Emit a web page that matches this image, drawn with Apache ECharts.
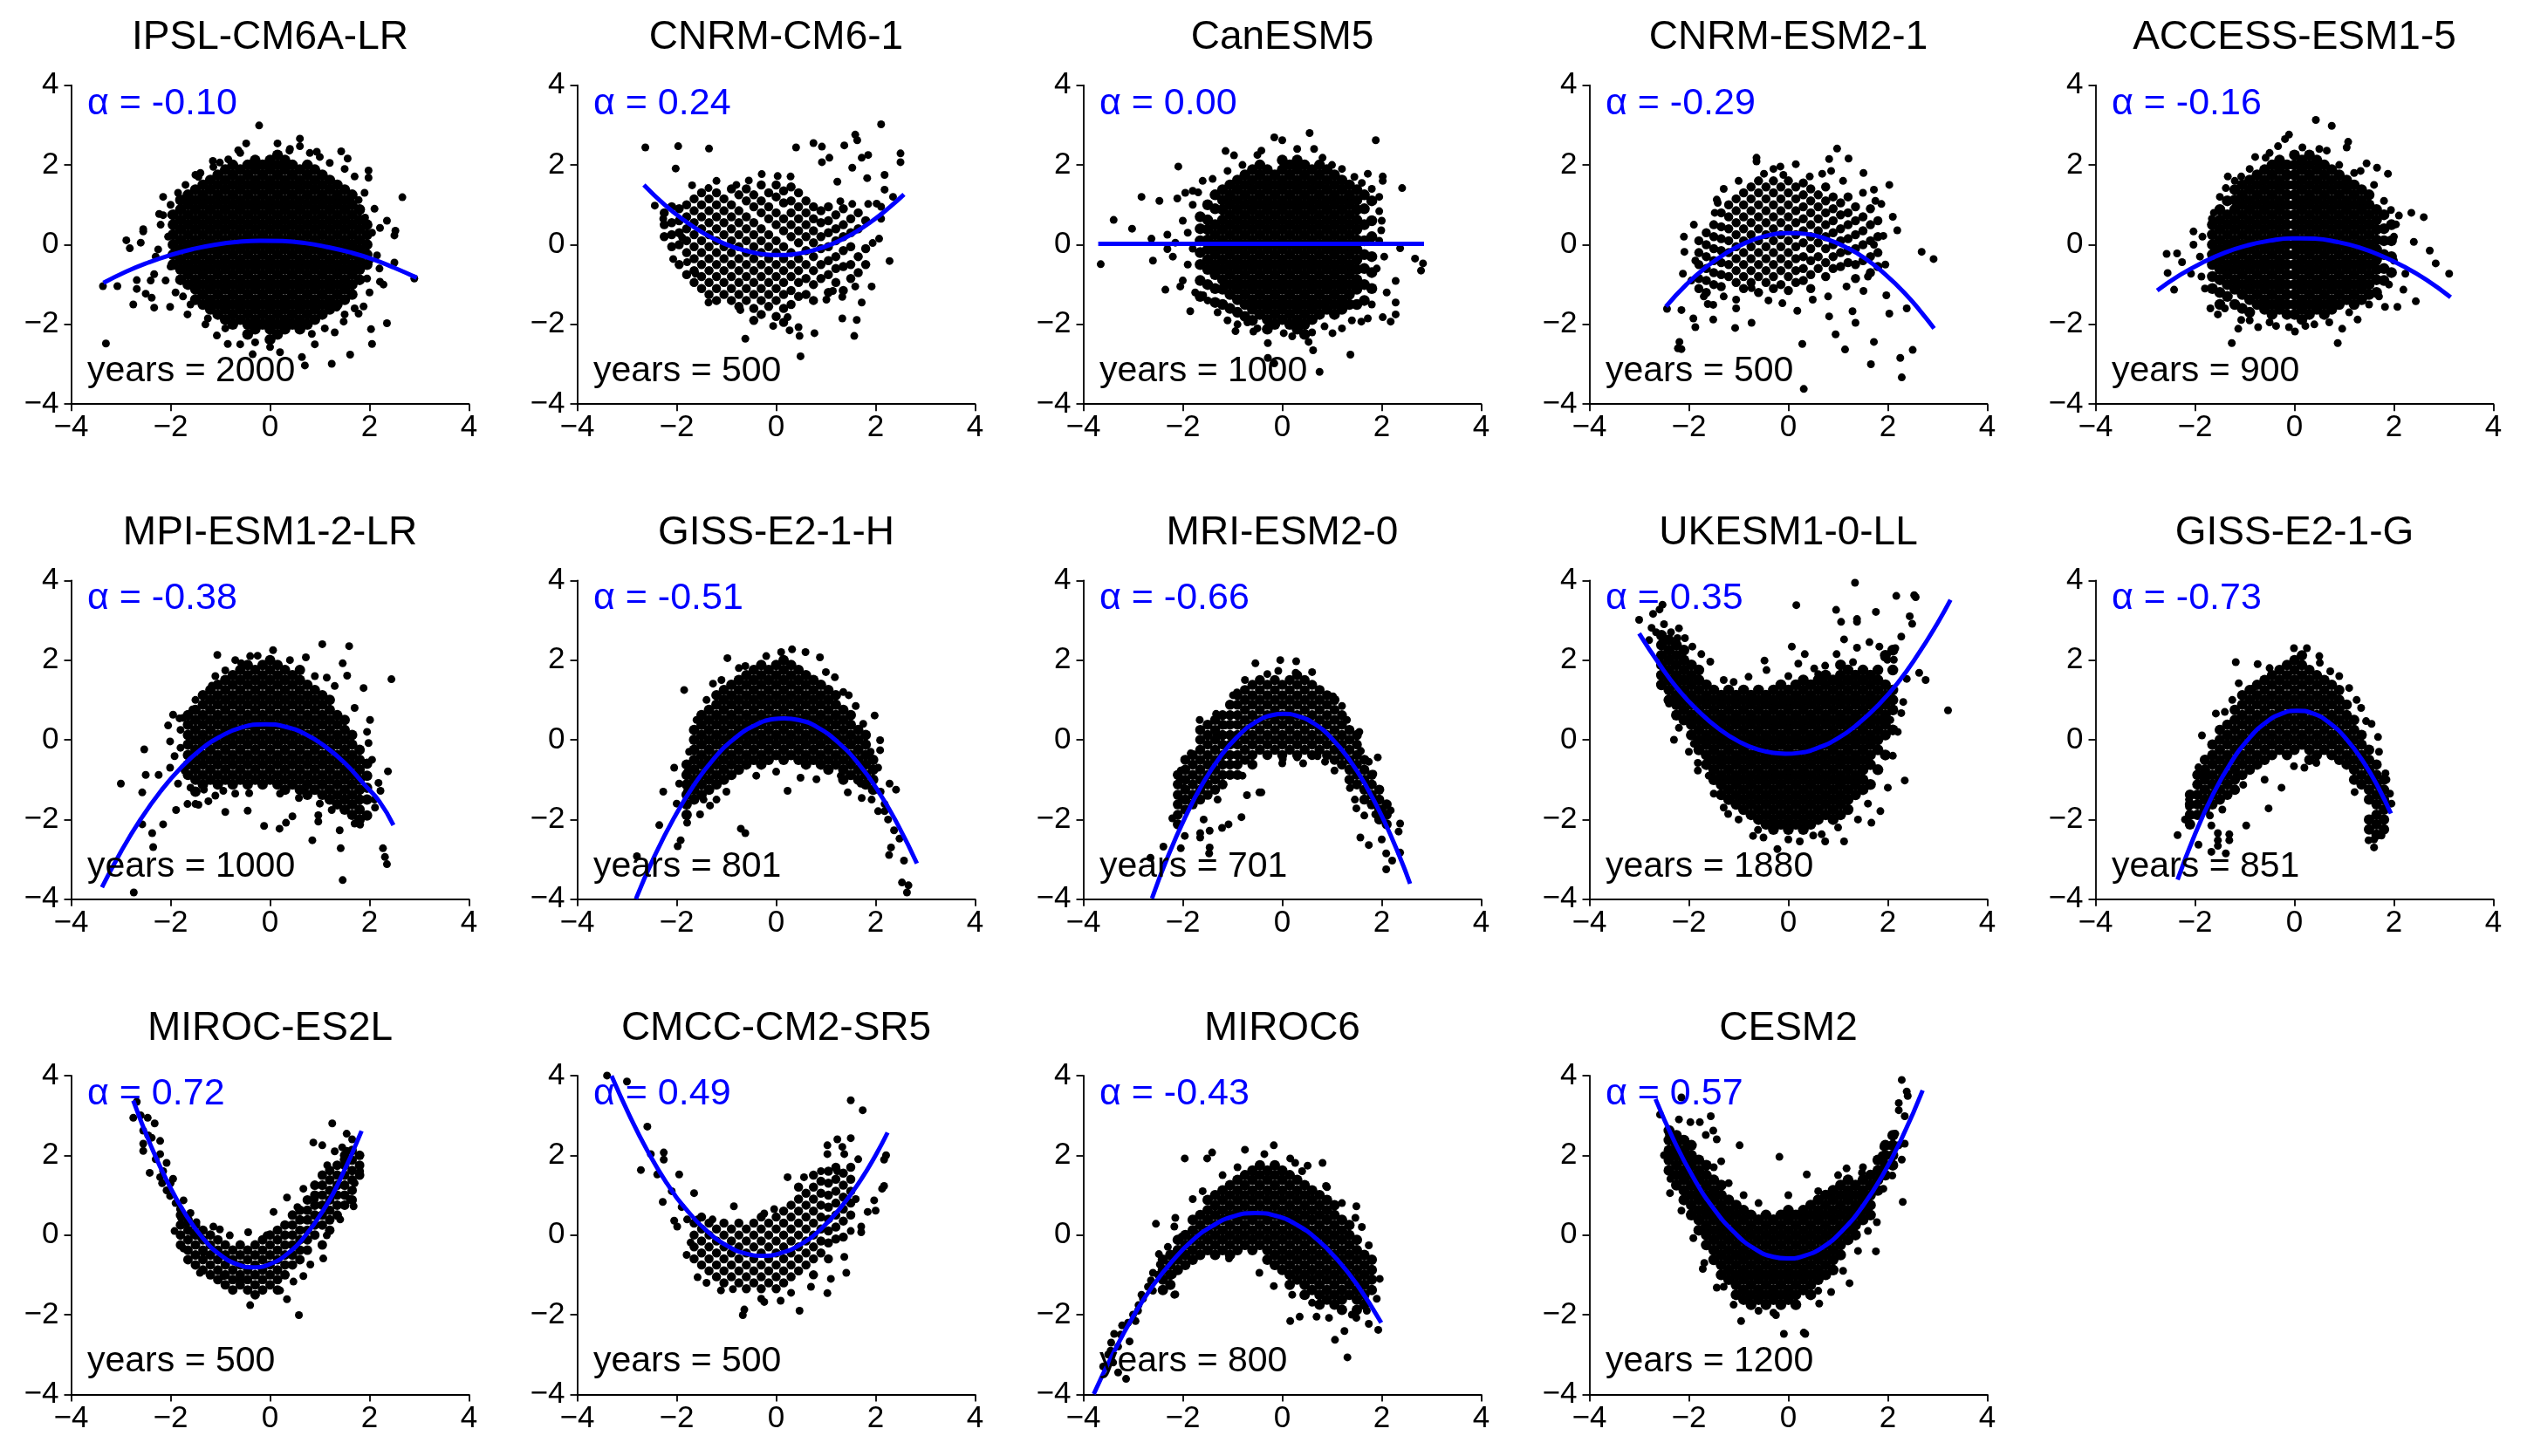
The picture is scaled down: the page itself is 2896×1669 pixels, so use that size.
<!DOCTYPE html>
<html><head><meta charset="utf-8">
<script src="https://cdn.jsdelivr.net/npm/echarts@6/dist/echarts.min.js"></script>
<style>html,body{margin:0;padding:0;background:#fff}#c{width:2896px;height:1669px}</style>
</head><body><div id="c"></div>
<script>
const modelNames = ['IPSL-CM6A-LR','CNRM-CM6-1','CanESM5','CNRM-ESM2-1','ACCESS-ESM1-5','MPI-ESM1-2-LR','GISS-E2-1-H','MRI-ESM2-0','UKESM1-0-LL','GISS-E2-1-G','MIROC-ES2L','CMCC-CM2-SR5','MIROC6','CESM2'];
const alphaLabels = ['-0.10','0.24','0.00','-0.29','-0.16','-0.38','-0.51','-0.66','0.35','-0.73','0.72','0.49','-0.43','0.57'];
const yearCounts = [2000,500,1000,500,900,1000,801,701,1880,851,500,500,800,1200];
const axisMin = -4, axisMax = 4, axisStep = 2;

// ---- IPSL-CM6A-LR ----
const colsIPSL = [
[-1.95,-0.5,-0.25,0,0.25,0.5,0.75],
[-1.8,-0.88,-0.62,-0.38,-0.12,0.12,0.38,0.62,0.88,1.12],
[-1.65,-1,-0.75,-0.5,-0.25,0,0.25,0.5,0.75,1,1.25],
[-1.5,-1.38,-1.12,-0.88,-0.62,-0.38,-0.12,0.12,0.38,0.62,0.88,1.12,1.38],
[-1.35,-1.5,-1.25,-1,-0.75,-0.5,-0.25,0,0.25,0.5,0.75,1,1.25,1.5],
[-1.2,-1.62,-1.38,-1.12,-0.88,-0.62,-0.38,-0.12,0.12,0.38,0.62,0.88,1.12,1.38,1.62],
[-1.05,-1.75,-1.5,-1.25,-1,-0.75,-0.5,-0.25,0,0.25,0.5,0.75,1,1.25,1.5,1.75],
[-0.9,-1.88,-1.62,-1.38,-1.12,-0.88,-0.62,-0.38,-0.12,0.12,0.38,0.62,0.88,1.12,1.38,1.62,1.88],
[-0.75,-2,-1.75,-1.5,-1.25,-1,-0.75,-0.5,-0.25,0,0.25,0.5,0.75,1,1.25,1.5,1.75,2],
[-0.6,-1.88,-1.62,-1.38,-1.12,-0.88,-0.62,-0.38,-0.12,0.12,0.38,0.62,0.88,1.12,1.38,1.62,1.88],
[-0.45,-2.25,-2,-1.75,-1.5,-1.25,-1,-0.75,-0.5,-0.25,0,0.25,0.5,0.75,1,1.25,1.5,1.75,2],
[-0.3,-2.12,-1.88,-1.62,-1.38,-1.12,-0.88,-0.62,-0.38,-0.12,0.12,0.38,0.62,0.88,1.12,1.38,1.62,1.88,2.12],
[-0.15,-2,-1.75,-1.5,-1.25,-1,-0.75,-0.5,-0.25,0,0.25,0.5,0.75,1,1.25,1.5,1.75,2],
[0,-2.38,-2.12,-1.88,-1.62,-1.38,-1.12,-0.88,-0.62,-0.38,-0.12,0.12,0.38,0.62,0.88,1.12,1.38,1.62,1.88,2.12],
[0.15,-2.25,-2,-1.75,-1.5,-1.25,-1,-0.75,-0.5,-0.25,0,0.25,0.5,0.75,1,1.25,1.5,1.75,2,2.25],
[0.3,-2.12,-1.88,-1.62,-1.38,-1.12,-0.88,-0.62,-0.38,-0.12,0.12,0.38,0.62,0.88,1.12,1.38,1.62,1.88,2.12],
[0.45,-2,-1.75,-1.5,-1.25,-1,-0.75,-0.5,-0.25,0,0.25,0.5,0.75,1,1.25,1.5,1.75,2],
[0.6,-2.12,-1.88,-1.62,-1.38,-1.12,-0.88,-0.62,-0.38,-0.12,0.12,0.38,0.62,0.88,1.12,1.38,1.62,1.88],
[0.75,-2,-1.75,-1.5,-1.25,-1,-0.75,-0.5,-0.25,0,0.25,0.5,0.75,1,1.25,1.5,1.75,2],
[0.9,-1.88,-1.62,-1.38,-1.12,-0.88,-0.62,-0.38,-0.12,0.12,0.38,0.62,0.88,1.12,1.38,1.62,1.88],
[1.05,-1.75,-1.5,-1.25,-1,-0.75,-0.5,-0.25,0,0.25,0.5,0.75,1,1.25,1.5,1.75],
[1.2,-1.62,-1.38,-1.12,-0.88,-0.62,-0.38,-0.12,0.12,0.38,0.62,0.88,1.12,1.38,1.62],
[1.35,-1.5,-1.25,-1,-0.75,-0.5,-0.25,0,0.25,0.5,0.75,1,1.25,1.5],
[1.5,-1.38,-1.12,-0.88,-0.62,-0.38,-0.12,0.12,0.38,0.62,0.88,1.12,1.38],
[1.65,-1.25,-1,-0.75,-0.5,-0.25,0,0.25,0.5,0.75,1,1.25],
[1.8,-0.88,-0.62,-0.38,-0.12,0.12,0.38,0.62,0.88],
[1.95,-0.5,-0.25,0,0.25,0.5]
];
const ptsIPSL = [-0.22,2.99,0.6,2.66,0.6,2.47,-0.48,2.54,0.15,2.54,-0.64,2.37,0.39,2.36,0.94,2.33,1.43,2.34,1.56,2.16,1.98,1.86,1.98,1.68,1.7,1.71,2.66,1.19,2.21,0.42,2.52,0.35,2.5,0.23,2.5,-0.45,2.9,-0.85,2.35,-1.97,2.03,-2.12,2.05,-2.49,1.61,-2.76,1.24,-2.99,0.7,-3.03,0.64,-2.82,0,-2.57,-0.35,-2.75,-0.85,-2.49,-1.07,-2.28,-3.3,-2.48,-3.36,-1.04,-3.07,-1.04,-2.75,-1.5,-2.33,-1.58,-2.01,-1.56,-1.66,-1.75,-2.89,0.11,-2.82,-0.09,-2.55,0.33,-2.55,0.39,-2.23,0.77,-2.15,0.74,-2.25,-0.12,-2.33,-0.74,-2.68,-0.89,-2.68,-1.11,-2.5,-1.23,-2.38,-1.33,-1.99,0.75,-1.81,1.12,-1.44,1.7,-1.14,1.95,-1.01,2.06,-0.84,2.14,1.78,1.12,1.91,0.68,2.15,-0.27,2.21,-0.93,2.28,-1.0,1.88,-1.55,1.78,-1.73,1.48,-1.93,0.84,-2.24,0.37,-1.95,1.34,-1.58,-2.2,0.5,-2.3,-0.3,-2.1,-0.9,-2.0,1.0,-1.7,1.5,-1.4,1.8,-0.6,2.3,0.4,2.4,1.0,2.2,1.5,1.9,1.9,1.3,2.1,0.9,2.2,-0.6,2.0,-1.2,1.7,-1.6,1.3,-2.2,0.9,-2.5,0.2,-2.7,-0.6,-2.5,-1.3,-2.0,-1.6,-1.5,-1.9,-1.2,-2.4,-0.9,-2.6,0.05,-2.05,0.2,-2.0,-0.55,-2.15,1.2,-1.5,1.75,2.05,0.3,2.0,-0.4,1.95,-0.85,1.5,-1.75,1.1,-2.1,-0.3,-2.45,-0.9,-2.1,-1.25,-1.85,-1.75,-1.3,-1.85,1.3,-1.15,2.1,0.8,2.3,1.2,2.05,2.35,0.6];
const fitIPSL = [-3.35,-0.96,-2.9,-0.68,-2.45,-0.45,-2.0,-0.26,-1.55,-0.11,-1.1,0.0,-0.65,0.07,-0.2,0.1,0.25,0.09,0.7,0.04,1.15,-0.06,1.6,-0.19,2.05,-0.36,2.5,-0.58,2.95,-0.83];

// ---- CNRM-CM6-1 ----
const colsCNRM6 = [
[-2.25,0.8,0.5,0.2],[-2.1,0.95,0.55,0.25,-0.05],[-1.95,0.9,0.6,0.3,0,-0.5],[-1.8,1.0,0.7,0.4,0.1,-0.2,-0.75],
[-1.65,1.15,0.85,0.55,0.25,-0.05,-0.35,-0.65,-0.95],[-1.5,1.3,1.0,0.7,0.4,0.1,-0.2,-0.5,-0.8,-1.1],
[-1.35,1.15,0.85,0.55,0.25,-0.05,-0.35,-0.65,-0.95,-1.25],[-1.2,1.3,1.0,0.7,0.4,0.1,-0.2,-0.5,-0.8,-1.1,-1.4],
[-1.05,1.15,0.85,0.55,0.25,-0.05,-0.35,-0.65,-0.95,-1.25],[-0.9,1.4,1.0,0.7,0.4,0.1,-0.2,-0.5,-0.8,-1.1,-1.4],
[-0.75,1.25,0.85,0.55,0.25,-0.05,-0.35,-0.65,-0.95,-1.25,-1.55],[-0.6,1.4,1.1,0.7,0.4,0.1,-0.2,-0.5,-0.8,-1.1,-1.4],
[-0.45,1.25,0.95,0.55,0.25,-0.05,-0.35,-0.65,-0.95,-1.25,-1.6,-1.9],[-0.3,1.5,1.1,0.8,0.4,0.1,-0.2,-0.5,-0.8,-1.1,-1.4,-1.75],
[-0.15,1.3,0.95,0.65,0.25,-0.05,-0.35,-0.65,-0.95,-1.25,-1.55],[0,1.5,1.2,0.8,0.5,0.1,-0.2,-0.5,-0.8,-1.1,-1.4,-1.8],
[0.15,1.35,1.05,0.65,0.35,-0.05,-0.35,-0.65,-0.95,-1.25,-1.6,-1.95],[0.3,1.45,1.1,0.8,0.5,0.2,-0.2,-0.5,-0.8,-1.15,-1.5],
[0.45,1.3,0.95,0.65,0.35,0.05,-0.35,-0.65,-0.95,-1.3],[0.6,1.1,0.8,0.5,0.2,-0.15,-0.5,-0.85,-1.25],
[0.75,0.95,0.65,0.35,0.05,-0.3,-0.65,-1.0,-1.4],[0.9,0.85,0.55,0.2,-0.1,-0.5,-0.85],
[1.05,0.95,0.6,0.3,-0.05,-0.4,-0.75,-1.2],[1.2,0.75,0.4,0.1,-0.3,-0.6,-0.95],
[1.35,0.9,0.5,0.2,-0.15,-0.55,-1.15],[1.5,0.65,0.3,-0.05,-0.5,-0.85],[1.65,0.8,0.4,-0.3,-0.7],[1.8,0.6,-0.1,-0.5]
];
const ptsCNRM6 = [-2.63,2.44,-1.97,2.47,-1.35,2.41,-2.02,1.91,-1.69,1.49,-1.2,1.6,-1.36,1.42,-0.8,1.5,-0.55,1.61,-0.29,1.77,0.03,1.72,0.29,1.71,0.4,2.44,0.75,2.55,0.92,2.46,1.37,2.49,1.59,2.76,1.63,2.62,2.11,3.02,2.5,2.29,2.5,2.07,1.85,2.25,1.72,2.18,1.53,1.93,1.07,2.18,0.92,2.07,1.23,1.58,1.83,1.67,2.18,1.75,2.18,1.38,1.29,1.09,1.53,1.02,1.85,1.02,2.02,1.03,2.35,1.2,2.11,0.95,2.11,0.65,2.07,0.15,1.94,0.04,2.28,-0.41,1.92,-1.05,1.72,-1.45,1.59,-1.05,1.33,-1.85,1.62,-1.89,1.57,-2.29,0.77,-2.22,0.45,-2.07,0.47,-2.29,0.49,-2.8,0.27,-2.15,-0.06,-2.04,0.23,-1.82,-0.62,-2.36,-0.72,-1.64,-1.36,-1.45,-2.07,-0.36,-2.44,0.98,-2.27,0.65,-1.89,0.18,-1.62,-0.73,-1.79,-0.44,1.33,-1.31,1.14,-1.16,1.01,-1.38];
const fitCNRM6 = [-2.66,1.5,-2.25,1.01,-1.85,0.61,-1.45,0.28,-1.05,0.03,-0.65,-0.14,-0.25,-0.24,0.05,-0.26,0.35,-0.24,0.75,-0.14,1.15,0.03,1.55,0.28,1.95,0.61,2.3,0.96,2.57,1.26];

// ---- CanESM5 ----
const colsCan = [
[-1.65,0.7,0.4,0.1,-0.2,-0.5,-0.9,-1.3],
[-1.5,1.0,0.62,0.38,0.12,-0.12,-0.38,-0.62,-1.0],
[-1.35,1.25,0.9,0.5,0.25,0,-0.25,-0.5,-0.75,-1.1,-1.45],
[-1.2,1.38,1.12,0.88,0.62,0.38,0.12,-0.12,-0.38,-0.62,-0.88,-1.12,-1.5],
[-1.05,1.5,1.25,1,0.75,0.5,0.25,0,-0.25,-0.5,-0.75,-1,-1.25,-1.6],
[-0.9,1.62,1.38,1.12,0.88,0.62,0.38,0.12,-0.12,-0.38,-0.62,-0.88,-1.12,-1.38,-1.7],
[-0.75,1.75,1.5,1.25,1,0.75,0.5,0.25,0,-0.25,-0.5,-0.75,-1,-1.25,-1.5,-1.8],
[-0.6,1.88,1.62,1.38,1.12,0.88,0.62,0.38,0.12,-0.12,-0.38,-0.62,-0.88,-1.12,-1.38,-1.62,-1.9],
[-0.45,2,1.75,1.5,1.25,1,0.75,0.5,0.25,0,-0.25,-0.5,-0.75,-1,-1.25,-1.5,-1.75],
[-0.3,1.88,1.62,1.38,1.12,0.88,0.62,0.38,0.12,-0.12,-0.38,-0.62,-0.88,-1.12,-1.38,-1.62,-1.88,-2.12],
[-0.15,1.75,1.5,1.25,1,0.75,0.5,0.25,0,-0.25,-0.5,-0.75,-1,-1.25,-1.5,-1.75,-2],
[0,2.12,1.88,1.62,1.38,1.12,0.88,0.62,0.38,0.12,-0.12,-0.38,-0.62,-0.88,-1.12,-1.38,-1.62,-1.88],
[0.15,2,1.75,1.5,1.25,1,0.75,0.5,0.25,0,-0.25,-0.5,-0.75,-1,-1.25,-1.5,-1.75,-2],
[0.3,2.12,1.88,1.62,1.38,1.12,0.88,0.62,0.38,0.12,-0.12,-0.38,-0.62,-0.88,-1.12,-1.38,-1.62,-1.88,-2.12],
[0.45,2,1.75,1.5,1.25,1,0.75,0.5,0.25,0,-0.25,-0.5,-0.75,-1,-1.25,-1.5,-1.75,-2,-2.25],
[0.6,1.88,1.62,1.38,1.12,0.88,0.62,0.38,0.12,-0.12,-0.38,-0.62,-0.88,-1.12,-1.38,-1.62,-1.88],
[0.75,2,1.75,1.5,1.25,1,0.75,0.5,0.25,0,-0.25,-0.5,-0.75,-1,-1.25,-1.5,-1.75],
[0.9,1.88,1.62,1.38,1.12,0.88,0.62,0.38,0.12,-0.12,-0.38,-0.62,-0.88,-1.12,-1.38,-1.62],
[1.05,1.75,1.5,1.25,1,0.75,0.5,0.25,0,-0.25,-0.5,-0.75,-1,-1.25,-1.5,-1.75],
[1.2,1.62,1.38,1.12,0.88,0.62,0.38,0.12,-0.12,-0.38,-0.62,-0.88,-1.12,-1.38,-1.62],
[1.35,1.5,1.25,1,0.75,0.5,0.25,0,-0.25,-0.5,-0.75,-1,-1.25,-1.5],
[1.5,1.38,1.12,0.88,0.62,0.38,0.12,-0.12,-0.38,-0.62,-0.88,-1.12,-1.5],
[1.65,1.25,0.9,0.5,0.1,-0.25,-0.6,-1.0,-1.4],
[1.8,1.1,0.6,0.2,-0.3,-0.7,-1.1]
];
const ptsCan = [-3.65,-0.49,-3.39,0.62,-3.02,0.4,-2.83,1.2,-2.63,0.15,-2.6,-0.4,-2.31,0.25,-2.31,-0.11,-2.09,1.96,-2.35,-1.13,-2.05,-1.05,-1.85,-1.67,-1.59,-1.27,-1.69,1.31,-2.47,1.1,-2.11,1.16,-1.14,2.35,-0.97,2.24,-0.42,2.36,-0.16,2.69,0,2.62,0.55,2.8,0.64,2.4,0.81,2.18,1.88,2.62,1.72,1.78,2.02,1.71,2.02,1.6,2.41,1.42,1.95,0.84,1.99,0.36,2.37,-0.09,2.67,-0.35,2.83,-0.47,2.79,-0.65,2.28,-0.91,2.28,-1.45,2.28,-1.75,2.18,-1.93,2.02,-1.82,1.72,-1.85,1.59,-1.93,1.37,-2.76,1.01,-2.22,0.75,-3.19,0.53,-2.44,0.62,-2.65,0.03,-2.22,-0.29,-2.47,-0.29,-2.84,-0.58,-2.18,-0.94,-2.17,-0.16,-2.98,-2.0,0.6,-1.9,0.3,-1.8,-0.1,-1.9,-0.5,-2.0,-0.9,-1.8,1.0,-1.75,-1.2,-2.2,-0.3,-2.15,0.05,-1.95,1.3,-1.8,1.35,-1.6,1.6,-1.5,-1.4,-1.3,-1.7,-1.1,-1.9,-0.9,-2.0,-1.4,1.65,-1.1,1.85,-0.8,2.0,-0.5,2.25,0.3,2.4,1.0,2.0,1.2,1.9,1.45,1.7,1.6,1.55,1.8,1.4,1.95,1.2,2.0,0.6,1.95,0.1,2.05,-0.3,1.9,-0.6,2.1,-1.2,1.8,-1.5,1.4,-1.9,1.2,-2.1,0.85,-2.05,0.6,-2.2,0.2,-2.3,-0.5,-2.1,-0.7,-1.95];
const fitCan = [-3.7,0.02,-0.5,0.02,2.85,0.02];

// ---- CNRM-ESM2-1 ----
const colsCE2 = [
[-1.8,0.1,-0.2,-0.5,-0.85,-1.1],[-1.65,0.3,0,-0.3,-0.6,-0.9,-1.2],[-1.5,0.5,0.2,-0.1,-0.4,-0.7,-1.0],
[-1.35,0.8,0.45,0.15,-0.15,-0.45,-0.75,-1.05],[-1.2,1.0,0.7,0.4,0.1,-0.2,-0.5,-0.8],
[-1.05,1.15,0.85,0.55,0.25,-0.05,-0.35,-0.65,-0.95],[-0.9,1.3,1.0,0.7,0.4,0.1,-0.2,-0.5,-0.8,-1.1],
[-0.75,1.45,1.15,0.85,0.55,0.25,-0.05,-0.35,-0.65,-0.95],[-0.6,1.6,1.3,1.0,0.7,0.4,0.1,-0.2,-0.5,-0.8,-1.2],
[-0.45,1.45,1.15,0.85,0.55,0.25,-0.05,-0.35,-0.65,-0.95],[-0.3,1.6,1.3,1.0,0.7,0.4,0.1,-0.2,-0.5,-0.8,-1.1],
[-0.15,1.45,1.15,0.85,0.55,0.25,-0.05,-0.35,-0.65,-1.0],[0,1.6,1.3,1.0,0.7,0.4,0.1,-0.2,-0.5,-0.8,-1.15],
[0.15,1.45,1.15,0.85,0.55,0.25,-0.05,-0.35,-0.65,-0.95],[0.3,1.55,1.25,0.95,0.65,0.35,0.05,-0.3,-0.6,-0.9],
[0.45,1.4,1.1,0.8,0.5,0.2,-0.1,-0.4,-0.75,-1.1],[0.6,1.25,0.95,0.65,0.35,0.05,-0.3,-0.6],
[0.75,1.45,1.1,0.8,0.5,0.2,-0.1,-0.45,-0.8],[0.9,1.2,0.9,0.6,0.3,0,-0.3,-0.6],
[1.05,1.05,0.75,0.4,0.1,-0.2,-0.55],[1.2,1.2,0.8,0.5,0.15,-0.15,-0.45],[1.35,0.95,0.6,0.25,-0.1,-0.5,-0.85],
[1.5,0.7,0.35,0,-0.4],[1.65,0.9,0.5,0.1,-0.3,-0.7],[1.8,0.6,0.2,-0.2,-0.55]
];
const ptsCE2 = [-2.44,-1.61,-2.15,-1.64,-2.19,-2.44,-2.15,-2.62,-2.22,-2.6,-1.87,-2.07,-1.51,-1.88,-1.51,-1.51,-1.62,-1.49,-1.91,-1.85,-2.09,-0.18,-2.12,-0.73,-1.87,-0.4,-1.07,-2.09,-0.74,-1.96,-1.05,-1.6,-1.44,1.13,-1.42,1.05,-1.48,0.8,-0.64,2.09,-0.64,2.18,-0.16,1.96,0.15,2.02,-0.1,1.75,-0.49,1.78,0.43,1.71,0.68,1.78,0.82,2.15,0.98,2.41,1.21,2.16,0.86,1.85,1.51,1.8,2.03,1.5,1.72,1.38,1.87,1.02,2.19,0.36,1.91,0.22,1.72,0,2.68,-0.18,2.92,-0.36,1.97,-1.27,2.38,-1.6,2.03,-1.73,1.72,-2.44,2.5,-2.64,2.25,-2.84,2.28,-3.33,1.66,-3.0,1.14,-2.63,0.95,-2.25,0.82,-1.8,1.35,-1.96,1.29,-1.67,0.31,-3.62,0.28,-2.49,0.18,-1.66,-0.12,-1.47,0.49,-1.38,1.17,-1.05,1.51,-1.16,-0.74,-1.09,-1.05,-1.38,-1.95,-0.9,-1.7,-1.3,-1.3,-1.3,-0.4,-1.4,0.8,-1.3,1.6,-0.8,1.95,-0.5,2.1,0.7,1.75,1.1,1.5,1.3,1.1,1.6,-0.3,1.9,-1.0,1.6,-1.3,1.4,-1.9,0.5,-2.1,0.2];
const fitCE2 = [-2.46,-1.55,-2.05,-1.0,-1.65,-0.56,-1.25,-0.21,-0.85,0.05,-0.45,0.22,-0.05,0.29,0.06,0.29,0.35,0.27,0.75,0.15,1.15,-0.06,1.55,-0.35,1.95,-0.75,2.35,-1.23,2.65,-1.66,2.93,-2.1];

// ---- ACCESS-ESM1-5 ----
const colsACC = [
[-1.65,0.5,0.25,0,-0.25,-0.5,-0.8,-1.1],
[-1.5,0.88,0.62,0.38,0.12,-0.12,-0.38,-0.62,-0.88,-1.2,-1.5],
[-1.35,1.1,0.75,0.5,0.25,0,-0.25,-0.5,-0.75,-1,-1.3],
[-1.2,1.38,1.12,0.88,0.62,0.38,0.12,-0.12,-0.38,-0.62,-0.88,-1.12,-1.5],
[-1.05,1.5,1.25,1,0.75,0.5,0.25,0,-0.25,-0.5,-0.75,-1,-1.25,-1.6],
[-0.9,1.62,1.38,1.12,0.88,0.62,0.38,0.12,-0.12,-0.38,-0.62,-0.88,-1.12,-1.38,-1.7],
[-0.75,1.75,1.5,1.25,1,0.75,0.5,0.25,0,-0.25,-0.5,-0.75,-1,-1.25,-1.5],
[-0.6,1.88,1.62,1.38,1.12,0.88,0.62,0.38,0.12,-0.12,-0.38,-0.62,-0.88,-1.12,-1.38,-1.62],
[-0.45,2,1.75,1.5,1.25,1,0.75,0.5,0.25,0,-0.25,-0.5,-0.75,-1,-1.25,-1.5,-1.75],
[-0.3,2.12,1.88,1.62,1.38,1.12,0.88,0.62,0.38,0.12,-0.12,-0.38,-0.62,-0.88,-1.12,-1.38,-1.62],
[-0.15,2,1.75,1.5,1.25,1,0.75,0.5,0.25,0,-0.25,-0.5,-0.75,-1,-1.25,-1.5,-1.75],
[0,2.25,2,1.75,1.5,1.25,1,0.75,0.5,0.25,0,-0.25,-0.5,-0.75,-1,-1.25,-1.5,-1.75],
[0.15,2.12,1.88,1.62,1.38,1.12,0.88,0.62,0.38,0.12,-0.12,-0.38,-0.62,-0.88,-1.12,-1.38,-1.62,-1.88],
[0.3,2.25,2,1.75,1.5,1.25,1,0.75,0.5,0.25,0,-0.25,-0.5,-0.75,-1,-1.25,-1.5,-1.75],
[0.45,2.12,1.88,1.62,1.38,1.12,0.88,0.62,0.38,0.12,-0.12,-0.38,-0.62,-0.88,-1.12,-1.38,-1.62],
[0.6,2,1.75,1.5,1.25,1,0.75,0.5,0.25,0,-0.25,-0.5,-0.75,-1,-1.25,-1.5,-1.75],
[0.75,1.88,1.62,1.38,1.12,0.88,0.62,0.38,0.12,-0.12,-0.38,-0.62,-0.88,-1.12,-1.38,-1.62],
[0.9,1.75,1.5,1.25,1,0.75,0.5,0.25,0,-0.25,-0.5,-0.75,-1,-1.25,-1.5],
[1.05,1.62,1.38,1.12,0.88,0.62,0.38,0.12,-0.12,-0.38,-0.62,-0.88,-1.12,-1.38],
[1.2,1.5,1.25,1,0.75,0.5,0.25,0,-0.25,-0.5,-0.75,-1,-1.25,-1.5],
[1.35,1.38,1.12,0.88,0.62,0.38,0.12,-0.12,-0.38,-0.62,-0.88,-1.12,-1.38],
[1.5,1.25,1,0.75,0.5,0.25,0,-0.25,-0.5,-0.75,-1,-1.25],
[1.65,0.88,0.62,0.38,0.12,-0.12,-0.38,-0.62,-0.88,-1.2],
[1.8,0.75,0.4,0.1,-0.25,-0.6,-0.9],
[1.95,0.5,0.1,-0.3,-0.7]
];
const ptsACC = [-2.55,-0.71,-2.42,-1.13,-2.57,-0.23,-2.36,-0.22,-2.26,-0.44,-2.03,0.33,-2.03,0,-2.08,-0.73,-1.87,-0.8,-1.69,-1.6,-1.54,-1.75,-1.26,-2.47,-1.13,-2.11,-1.07,-1.89,-0.73,-2.07,-0.37,-2.04,-0.11,-2.07,0.01,-2.18,0.22,-2.04,0.87,-2.47,0.96,-2.11,1.27,-1.88,1.82,-1.56,2.07,-1.56,2.44,-1.42,2.19,-1.13,2.23,-0.73,2.84,-0.47,3.11,-0.73,2.72,-0.15,2.4,0.07,2.6,0.69,2.35,0.8,2.1,0.73,1.94,0.87,2.04,0.51,1.88,1.78,1.66,1.93,1.45,2.04,1.33,1.85,1.08,2.58,1.05,2.44,0.75,2.98,0.43,3.13,0.65,2.36,0.16,2.44,-0.11,2.76,-0.19,2.65,-0.33,2.47,-0.79,2.2,-0.58,2.18,-1.34,1.71,-1.38,1.42,-1.07,1.71,-1.62,0.8,-1.66,0.65,-1.85,0.2,-1.9,-0.3,-1.8,-1.1,-1.4,-1.6,-0.9,-1.9,-0.5,-1.95,0.4,-2.0,0.7,-1.95,1.1,-1.7,1.5,-1.5,1.7,-1.3,1.9,-1.0,2.0,-0.4,2.0,0.2,1.8,1.1,1.6,1.5,1.2,1.8,0.9,2.0,0.5,2.4,-0.5,2.3,-0.9,1.9,-1.2,1.6,-1.5,1.2];
const fitACC = [-2.76,-1.15,-2.3,-0.76,-1.85,-0.45,-1.4,-0.2,-0.95,-0.02,-0.5,0.1,-0.05,0.16,0.1,0.16,0.4,0.15,0.85,0.07,1.3,-0.07,1.75,-0.28,2.2,-0.55,2.65,-0.88,3.14,-1.32];

// ---- MPI-ESM1-2-LR ----
const colsMPI = [
[-1.65,0.62,0.38,0.12,-0.12,-0.38,-0.62,-0.88],
[-1.5,0.75,0.5,0.25,0,-0.25,-0.5,-0.75,-1.0,-1.3],
[-1.35,1.12,0.88,0.62,0.38,0.12,-0.12,-0.38,-0.62,-0.88,-1.12],
[-1.2,1.25,1,0.75,0.5,0.25,0,-0.25,-0.5,-0.75,-1.0],
[-1.05,1.38,1.12,0.88,0.62,0.38,0.12,-0.12,-0.38,-0.62,-0.88,-1.12],
[-0.9,1.5,1.25,1,0.75,0.5,0.25,0,-0.25,-0.5,-0.75,-1.0],
[-0.75,1.62,1.38,1.12,0.88,0.62,0.38,0.12,-0.12,-0.38,-0.62,-0.88,-1.12],
[-0.6,1.75,1.5,1.25,1,0.75,0.5,0.25,0,-0.25,-0.5,-0.75,-1.0],
[-0.45,1.88,1.62,1.38,1.12,0.88,0.62,0.38,0.12,-0.12,-0.38,-0.62,-0.88,-1.12],
[-0.3,1.75,1.5,1.25,1,0.75,0.5,0.25,0,-0.25,-0.5,-0.75,-1.0],
[-0.15,1.88,1.62,1.38,1.12,0.88,0.62,0.38,0.12,-0.12,-0.38,-0.62,-0.88,-1.12],
[0,2,1.75,1.5,1.25,1,0.75,0.5,0.25,0,-0.25,-0.5,-0.75,-1.0],
[0.15,1.88,1.62,1.38,1.12,0.88,0.62,0.38,0.12,-0.12,-0.38,-0.62,-0.88,-1.12],
[0.3,1.75,1.5,1.25,1,0.75,0.5,0.25,0,-0.25,-0.5,-0.75,-1.0,-1.25],
[0.45,1.62,1.38,1.12,0.88,0.62,0.38,0.12,-0.12,-0.38,-0.62,-0.88,-1.12],
[0.6,1.75,1.5,1.25,1,0.75,0.5,0.25,0,-0.25,-0.5,-0.75,-1.0,-1.25],
[0.75,1.38,1.12,0.88,0.62,0.38,0.12,-0.12,-0.38,-0.62,-0.88,-1.12,-1.38],
[0.9,1.25,1,0.75,0.5,0.25,0,-0.25,-0.5,-0.75,-1.0,-1.25],
[1.05,1.12,0.88,0.62,0.38,0.12,-0.12,-0.38,-0.62,-0.88,-1.12,-1.38],
[1.2,1.0,0.75,0.5,0.25,0,-0.25,-0.5,-0.75,-1.0,-1.25,-1.5],
[1.35,0.62,0.38,0.12,-0.12,-0.38,-0.62,-0.88,-1.12,-1.38,-1.62],
[1.5,0.5,0.25,0,-0.25,-0.5,-0.75,-1.0,-1.25,-1.5,-1.75],
[1.65,0.12,-0.12,-0.38,-0.62,-0.88,-1.12,-1.38,-1.62,-1.88],
[1.8,-0.25,-0.5,-0.75,-1.0,-1.25,-1.5,-1.75,-2.0],
[1.95,-0.6,-0.9,-1.2,-1.5,-1.9]
];
const ptsMPI = [-3.0,-1.1,-2.53,-0.24,-2.5,-0.88,-2.57,-1.32,-2.24,-0.88,-2.57,-2.12,-2.37,-2.34,-2.35,-2.69,-2.15,-2.12,-2.74,-3.83,-1.89,-1.76,-1.66,-1.61,-1.5,-1.61,-1.24,-1.54,-0.9,-1.81,-0.94,-1.28,-0.45,-1.78,-0.12,-2.16,0.19,-2.23,0.32,-2.08,0.45,-1.92,0.85,-2.52,0.97,-1.89,0.97,-2.05,1.24,-1.76,1.4,-2.27,1.42,-2.72,1.46,-3.52,1.81,-2.13,2.11,-1.7,2.27,-2.72,2.31,-2.94,2.35,-3.12,2.22,-1.28,2.18,-1.08,2.37,-0.79,1.98,-0.08,2.01,0.5,2.44,1.52,1.88,1.3,1.55,1.61,1.14,1.56,1.46,1.92,1.59,2.35,1.05,2.4,0.72,2.07,0.06,2.25,-0.25,2.11,-0.58,1.92,-1.06,2.13,-0.9,1.74,-1.17,1.36,-1.36,1.12,-1.56,0.76,-1.95,0.63,-1.82,0.54,-2.05,0.36,-2.01,-0.04,-1.92,-0.41,-2.01,-0.7,-1.72,-0.77,-1.33,-1.25,-1.44,-1.63,-0.42,-1.34,0.58,-1.46,0.71,-1.19,-1.8,-0.2,-1.8,0.25,-1.85,-1.1,-1.6,-1.2,-1.1,-1.4,-0.7,-1.35,0.2,-1.35,1.0,-1.6,1.7,-2.1,2.05,-0.5,2.1,-1.5,1.95,0.2,1.7,0.8,1.3,1.35,0.9,1.6,0.4,2.0,-0.4,2.1,-0.7,2.0,-1.1,1.6,-1.5,1.0,-1.75,0.55];
const fitMPI = [-3.38,-3.7,-3.0,-2.81,-2.6,-1.99,-2.2,-1.29,-1.8,-0.71,-1.4,-0.25,-1.0,0.08,-0.6,0.3,-0.1,0.39,0.3,0.33,0.7,0.15,1.1,-0.16,1.5,-0.58,1.9,-1.13,2.2,-1.55,2.48,-2.14];

// ---- GISS-E2-1-H ----
const colsGH = [
[-1.8,-0.62,-0.88,-1.12,-1.38,-1.62,-1.88],
[-1.65,0.25,0,-0.25,-0.5,-0.75,-1.0,-1.25,-1.5],
[-1.5,0.62,0.38,0.12,-0.12,-0.38,-0.62,-0.88,-1.12,-1.38],
[-1.35,0.75,0.5,0.25,0,-0.25,-0.5,-0.75,-1.0,-1.25],
[-1.2,1.12,0.88,0.62,0.38,0.12,-0.12,-0.38,-0.62,-0.88,-1.12],
[-1.05,1.25,1,0.75,0.5,0.25,0,-0.25,-0.5,-0.75,-1.0],
[-0.9,1.38,1.12,0.88,0.62,0.38,0.12,-0.12,-0.38,-0.62,-0.88],
[-0.75,1.5,1.25,1,0.75,0.5,0.25,0,-0.25,-0.5,-0.75],
[-0.6,1.62,1.38,1.12,0.88,0.62,0.38,0.12,-0.12,-0.38,-0.62],
[-0.45,1.75,1.5,1.25,1,0.75,0.5,0.25,0,-0.25,-0.5],
[-0.3,1.88,1.62,1.38,1.12,0.88,0.62,0.38,0.12,-0.12,-0.38,-0.62],
[-0.15,1.75,1.5,1.25,1,0.75,0.5,0.25,0,-0.25,-0.5],
[0,1.88,1.62,1.38,1.12,0.88,0.62,0.38,0.12,-0.12,-0.38],
[0.15,2,1.75,1.5,1.25,1,0.75,0.5,0.25,0,-0.25,-0.5],
[0.3,1.88,1.62,1.38,1.12,0.88,0.62,0.38,0.12,-0.12,-0.38],
[0.45,1.75,1.5,1.25,1,0.75,0.5,0.25,0,-0.25,-0.5],
[0.6,1.62,1.38,1.12,0.88,0.62,0.38,0.12,-0.12,-0.38,-0.62],
[0.75,1.5,1.25,1,0.75,0.5,0.25,0,-0.25,-0.5],
[0.9,1.38,1.12,0.88,0.62,0.38,0.12,-0.12,-0.38,-0.62],
[1.05,1.25,1,0.75,0.5,0.25,0,-0.25,-0.5,-0.75],
[1.2,1.12,0.88,0.62,0.38,0.12,-0.12,-0.38,-0.62],
[1.35,0.75,0.5,0.25,0,-0.25,-0.5,-0.75,-1.0],
[1.5,0.62,0.38,0.12,-0.12,-0.38,-0.62,-0.88],
[1.65,0.25,0,-0.25,-0.5,-0.75,-1.0],
[1.8,0.12,-0.12,-0.38,-0.62,-0.88,-1.12],
[1.95,-0.5,-0.75,-1.0,-1.25]
];
const ptsGH = [-1.85,1.25,-1.27,1.41,-0.98,2.05,-0.62,1.85,0.32,2.27,0.59,2.2,0.88,2.07,1.18,1.57,1.46,1.12,1.98,0.61,2.09,-0.01,2.09,-0.26,2.28,-1.1,2.41,-1.25,2.18,-1.61,2.18,-1.79,2.37,-2.27,2.48,-2.48,2.31,-2.7,2.27,-2.89,2.57,-3.03,2.66,-3.65,2.53,-3.58,2.63,-3.83,2.05,-1.79,1.92,-1.5,1.72,-1.46,1.44,-1.32,0.23,-1.28,0.49,-0.95,0.81,-0.99,-0.62,-2.34,-0.71,-2.23,-1.53,-1.87,-1.33,-1.65,-1.79,-2.08,-1.92,-2.52,-1.98,-2.67,-2.35,-2.14,-2.27,-1.3,-2.05,-0.7,-1.79,-0.81,-2.8,-2.92,-1.79,-1.28,-1.46,-1.5,-2.0,-1.6,-1.95,-1.1,-1.75,-0.3,-1.6,0.5,-1.4,1.0,-1.1,1.5,-0.75,1.8,-0.2,2.1,0.1,2.2,1.0,1.7,1.35,1.2,1.6,0.85,1.75,0.4,1.9,-0.3,2.05,-0.7,2.1,-1.3,2.25,-2.0,1.7,-1.1,1.3,-0.9,0.0,-0.8,-0.4,-0.9,-1.0,-1.3,-1.2,-1.5];
const fitGH = [-2.82,-3.99,-2.45,-2.93,-2.05,-1.95,-1.65,-1.13,-1.25,-0.47,-0.85,0.02,-0.45,0.35,-0.05,0.52,0.16,0.54,0.45,0.5,0.85,0.3,1.25,-0.07,1.65,-0.59,2.05,-1.28,2.45,-2.14,2.83,-3.1];

// ---- MRI-ESM2-0 ----
const colsMRI = [
[-2.1,-0.88,-1.12,-1.38,-1.62,-1.88,-2.12],
[-1.95,-0.5,-0.75,-1.0,-1.25,-1.5,-1.75],
[-1.8,-0.38,-0.62,-0.88,-1.12,-1.38,-1.62],
[-1.65,0.25,0,-0.25,-0.5,-0.75,-1.0,-1.25,-1.5],
[-1.5,0.38,0.12,-0.12,-0.38,-0.62,-0.88,-1.12,-1.38],
[-1.35,0.5,0.25,0,-0.25,-0.5,-0.75,-1.0,-1.25],
[-1.2,0.62,0.38,0.12,-0.12,-0.38,-0.62,-0.88,-1.12],
[-1.05,0.88,0.62,0.38,0.12,-0.12,-0.38,-0.62,-0.88],
[-0.9,1.12,0.88,0.62,0.38,0.12,-0.12,-0.38,-0.62,-0.88],
[-0.75,1.25,1,0.75,0.5,0.25,0,-0.25,-0.5],
[-0.6,1.38,1.12,0.88,0.62,0.38,0.12,-0.12,-0.38,-0.62],
[-0.45,1.5,1.25,1,0.75,0.5,0.25,0,-0.25],
[-0.3,1.38,1.12,0.88,0.62,0.38,0.12,-0.12,-0.38],
[-0.15,1.5,1.25,1,0.75,0.5,0.25,0,-0.25],
[0,1.38,1.12,0.88,0.62,0.38,0.12,-0.12,-0.38],
[0.15,1.5,1.25,1,0.75,0.5,0.25,0,-0.25],
[0.3,1.62,1.38,1.12,0.88,0.62,0.38,0.12,-0.12,-0.38],
[0.45,1.5,1.25,1,0.75,0.5,0.25,0,-0.25],
[0.6,1.38,1.12,0.88,0.62,0.38,0.12,-0.12,-0.38],
[0.75,1.25,1,0.75,0.5,0.25,0,-0.25],
[0.9,1.12,0.88,0.62,0.38,0.12,-0.12,-0.38],
[1.05,1.0,0.75,0.5,0.25,0,-0.25,-0.5],
[1.2,0.62,0.38,0.12,-0.12,-0.38,-0.62],
[1.35,0.25,0,-0.25,-0.5,-0.75,-1.0],
[1.5,0.12,-0.12,-0.38,-0.62,-0.88,-1.12],
[1.65,-0.5,-0.75,-1.0,-1.25,-1.5],
[1.8,-0.88,-1.12,-1.38,-1.62],
[1.95,-1.25,-1.5,-1.75,-2.0],
[2.1,-1.62,-1.88,-2.12]
];
const ptsMRI = [-0.54,1.92,-0.04,2.0,0.28,1.97,-0.08,1.73,0.27,1.68,-0.3,1.65,1.02,1.09,1.55,0.2,1.58,-0.28,1.92,-0.44,1.74,-0.55,1.83,-0.85,2.18,-1.77,2.37,-2.1,2.34,-2.3,2.37,-2.83,2.21,-3.03,2.09,-3.25,2.09,-2.85,1.74,-2.64,1.57,-2.45,2.0,-2.5,-0.46,-1.32,-0.71,-1.39,-0.82,-1.94,-1.08,-2.12,-1.21,-2.21,-1.46,-2.28,-1.46,-2.7,-1.47,-2.85,-1.65,-2.34,-1.65,-2.45,-1.58,-2.0,-2.02,-1.49,-2.21,-1.97,-2.04,-2.72,-1.96,-2.41,-2.39,-2.68,-2.65,-2.96,-1.66,0.5,-1.84,-0.34,-2.04,-0.77,-2.06,-1.03,-1.97,-1.21,-1.33,0.65,-1.33,0.14,-1.15,0.36,-0.99,1.12,-0.91,1.19,-0.42,-1.32,0,-0.59,0.01,-0.48,0.42,-0.59,0.3,-0.44,0.71,-0.41,0.86,-0.55,1.05,-0.77,1.36,-1.21,1.46,-1.5,1.49,-1.72,1.65,-1.9,1.87,-1.87,2.02,-1.72,-0.8,-0.9,-1.3,-1.5,1.3,0.5,1.2,0.85,0.6,1.7,-0.75,1.5];
const fitMRI = [-2.62,-3.98,-2.3,-2.93,-1.95,-1.94,-1.6,-1.1,-1.25,-0.43,-0.9,0.08,-0.55,0.43,-0.2,0.62,0.03,0.65,0.3,0.6,0.65,0.4,1.0,0.03,1.35,-0.5,1.7,-1.19,2.05,-2.04,2.35,-2.9,2.57,-3.61];

// ---- UKESM1-0-LL ----
const colsUK = [
[-2.55,1.38,1.62,1.88,2.12,2.38,2.62],
[-2.4,1.0,1.25,1.5,1.75,2,2.25,2.5],
[-2.25,0.62,0.88,1.12,1.38,1.62,1.88,2.12,2.38],
[-2.1,0.5,0.75,1,1.25,1.5,1.75,2,2.25],
[-1.95,0.12,0.38,0.62,0.88,1.12,1.38,1.62,1.88],
[-1.8,-0.25,0,0.25,0.5,0.75,1,1.25,1.5,1.75],
[-1.65,-0.62,-0.38,-0.12,0.12,0.38,0.62,0.88,1.12,1.38],
[-1.5,-1.0,-0.75,-0.5,-0.25,0,0.25,0.5,0.75,1,1.25],
[-1.35,-1.38,-1.12,-0.88,-0.62,-0.38,-0.12,0.12,0.38,0.62,0.88,1.12],
[-1.2,-1.5,-1.25,-1,-0.75,-0.5,-0.25,0,0.25,0.5,0.75,1,1.25],
[-1.05,-1.62,-1.38,-1.12,-0.88,-0.62,-0.38,-0.12,0.12,0.38,0.62,0.88,1.12],
[-0.9,-1.75,-1.5,-1.25,-1,-0.75,-0.5,-0.25,0,0.25,0.5,0.75,1,1.25],
[-0.75,-1.88,-1.62,-1.38,-1.12,-0.88,-0.62,-0.38,-0.12,0.12,0.38,0.62,0.88,1.12],
[-0.6,-2.0,-1.75,-1.5,-1.25,-1,-0.75,-0.5,-0.25,0,0.25,0.5,0.75,1,1.25],
[-0.45,-2.12,-1.88,-1.62,-1.38,-1.12,-0.88,-0.62,-0.38,-0.12,0.12,0.38,0.62,0.88,1.12],
[-0.3,-2.25,-2,-1.75,-1.5,-1.25,-1,-0.75,-0.5,-0.25,0,0.25,0.5,0.75,1,1.25],
[-0.15,-2.12,-1.88,-1.62,-1.38,-1.12,-0.88,-0.62,-0.38,-0.12,0.12,0.38,0.62,0.88,1.12,1.38],
[0,-2.25,-2,-1.75,-1.5,-1.25,-1,-0.75,-0.5,-0.25,0,0.25,0.5,0.75,1,1.25],
[0.15,-2.12,-1.88,-1.62,-1.38,-1.12,-0.88,-0.62,-0.38,-0.12,0.12,0.38,0.62,0.88,1.12,1.38],
[0.3,-2.25,-2,-1.75,-1.5,-1.25,-1,-0.75,-0.5,-0.25,0,0.25,0.5,0.75,1,1.25,1.5],
[0.45,-2.12,-1.88,-1.62,-1.38,-1.12,-0.88,-0.62,-0.38,-0.12,0.12,0.38,0.62,0.88,1.12,1.38],
[0.6,-2.0,-1.75,-1.5,-1.25,-1,-0.75,-0.5,-0.25,0,0.25,0.5,0.75,1,1.25,1.5],
[0.75,-1.88,-1.62,-1.38,-1.12,-0.88,-0.62,-0.38,-0.12,0.12,0.38,0.62,0.88,1.12,1.38,1.62],
[0.9,-2.0,-1.75,-1.5,-1.25,-1,-0.75,-0.5,-0.25,0,0.25,0.5,0.75,1,1.25,1.5],
[1.05,-1.88,-1.62,-1.38,-1.12,-0.88,-0.62,-0.38,-0.12,0.12,0.38,0.62,0.88,1.12,1.38,1.62,1.88],
[1.2,-1.75,-1.5,-1.25,-1,-0.75,-0.5,-0.25,0,0.25,0.5,0.75,1,1.25,1.5,1.75],
[1.35,-1.38,-1.12,-0.88,-0.62,-0.38,-0.12,0.12,0.38,0.62,0.88,1.12,1.38,1.62],
[1.5,-1.25,-1,-0.75,-0.5,-0.25,0,0.25,0.5,0.75,1,1.25,1.5,1.75],
[1.65,-1.12,-0.62,-0.38,-0.12,0.12,0.38,0.62,0.88,1.12,1.38,1.62],
[1.8,-0.75,-0.25,0,0.25,0.5,0.75,1,1.25,1.5,1.75],
[1.95,-0.38,0.12,0.38,0.62,0.88,1.12,1.38,2.12],
[2.1,0.25,0.75,1.0,1.25,1.75,2.25]
];
const ptsUK = [-3.0,3.01,-2.72,3.16,-2.59,3.27,-2.53,3.39,-2.75,2.81,-2.66,2.7,-2.53,2.52,-2.36,2.7,-2.23,2.55,-2.08,2.55,-1.93,2.34,-1.57,1.96,-2.3,0.0,-2.4,0.91,-1.82,-0.58,-1.82,-0.77,-1.5,-1.35,-1.21,-1.86,-0.71,-2.41,-0.61,-2.26,-0.22,-2.74,0.23,-2.55,0.67,-2.37,0.74,-2.55,1.12,-2.55,1.67,-2.08,1.85,-1.79,2.34,-1.02,2.27,0.67,2.31,0.95,3.21,0.74,2.76,1.5,2.63,1.68,2.38,1.53,2.49,2.91,2.44,3.1,2.56,3.58,2.17,3.61,2.53,3.63,1.76,3.21,1.38,2.96,1.38,3.03,1.06,2.96,0.96,3.26,1.34,3.94,0.16,3.38,0.33,2.15,0.07,2.34,-0.48,1.99,-0.8,1.58,-0.44,1.75,0.2,1.91,0.52,1.79,0.74,1.86,0.97,2.15,1.12,2.52,1.38,2.31,1.63,2.45,1.83,2.34,1.93,2.07,2.12,2.01,2.15,2.3,2.27,2.59,1.99,2.01,-1.6,-0.9,-1.3,-1.7,-1.0,-2.0,-0.5,-2.45,0.0,-2.5,0.5,-2.4,1.0,-2.2,1.4,-2.0,1.6,-1.6,2.0,-1.2,2.1,-0.4,2.2,0.2,2.05,0.5,-2.0,-0.3,-2.2,0.3,-1.9,-0.1,-2.8,2.5,-2.5,2.9,-2.2,2.8,-1.75,2.15,-1.3,1.5,-1.1,1.45,0.0,1.6,0.6,1.65,1.3,1.95];
const fitUK = [-3.0,2.67,-2.6,1.91,-2.2,1.24,-1.8,0.71,-1.4,0.28,-1.0,-0.04,-0.6,-0.25,-0.2,-0.34,-0.06,-0.35,0.2,-0.33,0.6,-0.2,1.0,0.04,1.4,0.4,1.8,0.86,2.2,1.43,2.6,2.13,3.0,2.93,3.26,3.51];

// ---- GISS-E2-1-G ----
const colsGG = [
[-2.1,-1.38,-1.62,-1.88,-2.12],
[-1.95,-0.88,-1.12,-1.38,-1.62,-1.88],
[-1.8,-0.5,-0.75,-1.0,-1.25,-1.5,-1.75],
[-1.65,-0.12,-0.38,-0.62,-0.88,-1.12,-1.38,-1.62],
[-1.5,0.25,0,-0.25,-0.5,-0.75,-1.0,-1.25,-1.5],
[-1.35,0.38,0.12,-0.12,-0.38,-0.62,-0.88,-1.12,-1.38],
[-1.2,0.75,0.5,0.25,0,-0.25,-0.5,-0.75,-1.0,-1.25],
[-1.05,1.12,0.88,0.62,0.38,0.12,-0.12,-0.38,-0.62,-0.88],
[-0.9,1.25,1,0.75,0.5,0.25,0,-0.25,-0.5,-0.75],
[-0.75,1.38,1.12,0.88,0.62,0.38,0.12,-0.12,-0.38,-0.62],
[-0.6,1.5,1.25,1,0.75,0.5,0.25,0,-0.25,-0.5],
[-0.45,1.62,1.38,1.12,0.88,0.62,0.38,0.12,-0.12,-0.38],
[-0.3,1.75,1.5,1.25,1,0.75,0.5,0.25,0,-0.25],
[-0.15,1.88,1.62,1.38,1.12,0.88,0.62,0.38,0.12,-0.12,-0.38],
[0,2,1.75,1.5,1.25,1,0.75,0.5,0.25,0,-0.25],
[0.15,2.12,1.88,1.62,1.38,1.12,0.88,0.62,0.38,0.12,-0.12],
[0.3,1.75,1.5,1.25,1,0.75,0.5,0.25,0,-0.25,-0.5],
[0.45,1.62,1.38,1.12,0.88,0.62,0.38,0.12,-0.12,-0.38],
[0.6,1.5,1.25,1,0.75,0.5,0.25,0,-0.25],
[0.75,1.38,1.12,0.88,0.62,0.38,0.12,-0.12,-0.38],
[0.9,1.25,1,0.75,0.5,0.25,0,-0.25,-0.5],
[1.05,0.88,0.62,0.38,0.12,-0.12,-0.38,-0.62],
[1.2,0.5,0.25,0,-0.25,-0.5,-0.75,-1.0],
[1.35,0.12,-0.12,-0.38,-0.62,-0.88,-1.12],
[1.5,-0.25,-0.5,-0.75,-1.0,-1.25,-1.5,-2.0,-2.25],
[1.65,-0.62,-0.88,-1.12,-1.38,-1.62,-1.88,-2.12,-2.38],
[1.8,-1.0,-1.25,-1.5,-1.75,-2.0,-2.25]
];
const ptsGG = [-1.18,1.95,-0.74,1.9,-0.01,2.3,0.25,2.3,0.51,1.93,0.72,1.72,1.34,0.8,1.68,0.07,1.44,0.47,1.83,-0.84,1.92,-1.35,1.6,-2.7,1.49,-2.52,1.21,-1.31,-0.26,-1.2,-0.52,-1.72,0.44,-0.58,-0.01,-0.66,-0.97,-2.15,-1.31,-2.37,-1.31,-2.52,-1.54,-2.34,-1.67,-2.15,-1.54,-2.52,-1.67,-2.81,-1.38,-2.85,-1.54,-2.66,-2.35,-2.39,-1.93,-2.63,-2.12,-1.5,-2.12,-1.68,-1.93,-0.69,-1.86,0.11,-1.58,0.66,-1.12,1.42,-0.84,1.28,-1.8,-0.84,-1.03,-1.13,-1.16,-0.91,-1.4,0.7,-1.25,1.0,-0.5,1.8,0.5,2.1,0.9,1.6,1.1,1.3,1.25,1.0,1.55,0.4,1.7,-0.3,1.85,-1.0,1.95,-1.6,1.6,-2.5,1.75,-2.4,-2.2,-2.0,-1.7,-1.9,-1.45,-1.75,-0.6,-1.0,0.2,-0.7];
const fitGG = [-2.35,-3.51,-2.0,-2.37,-1.65,-1.4,-1.3,-0.62,-0.95,-0.02,-0.6,0.41,-0.25,0.66,0.06,0.73,0.35,0.67,0.7,0.43,1.05,0.01,1.4,-0.58,1.7,-1.23,1.94,-1.85];

// ---- MIROC-ES2L ----
const colsES2L = [
[-1.8,0.5,0.25,0,-0.25],[-1.65,0.38,0.12,-0.12,-0.38,-0.62],[-1.5,0.25,0,-0.25,-0.5,-0.75],
[-1.35,0.12,-0.12,-0.38,-0.62,-0.88],[-1.2,0,-0.25,-0.5,-0.75,-1.0],[-1.05,-0.12,-0.38,-0.62,-0.88,-1.12],
[-0.9,-0.25,-0.5,-0.75,-1.0,-1.25],[-0.75,-0.38,-0.62,-0.88,-1.12,-1.38],[-0.6,-0.25,-0.5,-0.75,-1.0,-1.25],
[-0.45,-0.38,-0.62,-0.88,-1.12,-1.38],[-0.3,-0.25,-0.5,-0.75,-1.0,-1.25,-1.5],[-0.15,-0.12,-0.38,-0.62,-0.88,-1.12,-1.38],
[0,0,-0.25,-0.5,-0.75,-1.0,-1.25],[0.15,0.12,-0.12,-0.38,-0.62,-0.88,-1.12,-1.38],[0.3,0.25,0,-0.25,-0.5,-0.75,-1.0],
[0.45,0.5,0.25,0,-0.25,-0.5,-0.75],[0.6,0.62,0.38,0.12,-0.12,-0.38,-0.62],[0.75,0.88,0.62,0.38,0.12,-0.12,-0.38],
[0.9,1.25,1.0,0.75,0.5,0.25,0],[1.05,1.5,1.25,1.0,0.75,0.5,0.25,-0.25],[1.2,1.62,1.38,1.12,0.88,0.62,0.38,0.12],
[1.35,1.75,1.5,1.25,1.0,0.75,0.5],[1.5,2.0,1.75,1.5,1.25,1.0,0.75],[1.65,2.12,1.88,1.62,1.38,1.12,0.88],[1.8,2.0,1.75,1.5]
];
const ptsES2L = [-2.75,2.94,-2.68,3.34,-2.46,2.94,-2.55,2.62,-2.55,2.29,-2.55,2.11,-2.42,1.56,-2.38,2.44,-2.32,2.8,-2.21,2.36,-2.21,2.03,-2.08,1.81,-2.21,1.45,-1.95,1.41,-2.17,1.3,-2.08,1.12,-2.01,0.98,-1.74,0.87,-1.81,0.65,-1.79,0.43,-1.92,0.1,-1.68,0.28,-1.48,0.32,-1.74,-0.34,-1.41,-0.95,-1.41,-0.04,-1.34,-0.44,-1.14,0.21,-1.01,0.14,-0.81,-0.01,-0.44,0.07,-0.07,-0.01,0.07,0.58,0.34,0.94,0.67,1.16,0.87,2.32,1.05,2.25,1.25,2.8,1.54,2.54,1.81,1.6,1.54,2.11,1.48,1.89,1.68,0.72,1.41,0.39,1.14,-0.01,1.07,-0.59,0.58,-2.01,-0.4,-1.76,0.34,-1.61,-0.94,-1.03,-0.6,-1.14,0.2,-1.39,0.47,-1.17,0.67,-1.03,0.81,-0.74,-2.6,3.0,-2.45,2.5,-2.3,1.9,-2.15,1.6,-2.0,1.3,-1.9,0.8,-1.6,0.55,-1.55,0.05,1.15,1.75,1.3,2.1,1.45,2.2,1.65,2.4,1.7,1.3,1.6,0.9,0.9,0.9,0.55,0.7];
const fitES2L = [-2.75,3.37,-2.4,2.25,-2.05,1.3,-1.7,0.52,-1.35,-0.08,-1.0,-0.5,-0.65,-0.74,-0.34,-0.81,0.0,-0.73,0.35,-0.47,0.7,-0.03,1.05,0.58,1.4,1.37,1.84,2.61];

// ---- CMCC-CM2-SR5 ----
const colsCMCC = [
[-1.65,0.3,0,-0.3,-0.6],[-1.5,0.45,0.15,-0.15,-0.45,-0.75],[-1.35,0.3,0,-0.3,-0.6,-0.9],
[-1.2,0.15,-0.15,-0.45,-0.75,-1.05],[-1.05,0.3,0,-0.3,-0.6,-0.9,-1.2],[-0.9,0.15,-0.15,-0.45,-0.75,-1.05],
[-0.75,0.3,0,-0.3,-0.6,-0.9,-1.2],[-0.6,0.15,-0.15,-0.45,-0.75,-1.05,-1.35],[-0.45,0.3,0,-0.3,-0.6,-0.9,-1.2],
[-0.3,0.45,0.15,-0.15,-0.45,-0.75,-1.05,-1.35],[-0.15,0.3,0,-0.3,-0.6,-0.9,-1.2],[0,0.45,0.15,-0.15,-0.45,-0.75,-1.05,-1.35],
[0.15,0.6,0.3,0,-0.3,-0.6,-0.9,-1.2],[0.3,0.75,0.45,0.15,-0.15,-0.45,-0.75,-1.05],[0.45,1.2,0.9,0.6,0.3,0,-0.3,-0.6,-0.9],
[0.6,1.05,0.75,0.45,0.15,-0.15,-0.45,-0.75],[0.75,1.5,1.2,0.9,0.6,0.3,0,-0.3,-0.6,-1.0],[0.9,1.35,1.05,0.75,0.45,0.15,-0.15,-0.45],
[1.05,1.6,1.3,1.0,0.7,0.4,0.1,-0.2,-0.6],[1.2,1.7,1.4,1.1,0.8,0.5,0.2,-0.1],[1.35,1.55,1.25,0.95,0.65,0.35,-0.05],[1.5,1.7,1.4,1.1,0.8,0.5]
];
const ptsCMCC = [-3.4,4.0,-3.0,3.85,-2.59,2.72,-2.52,2.03,-2.26,2.07,-2.26,1.89,-2.72,1.63,-2.39,1.52,-1.95,1.52,-2.28,0.83,-1.65,1.05,-2.05,0.36,-1.99,0.21,-1.79,0.39,-1.58,0.39,-1.28,0.39,-1.72,-0.19,-1.58,-1.06,-1.11,-1.39,-0.87,-1.36,-0.67,-2.01,-0.64,-1.87,-0.24,-1.68,0.09,-1.65,0.47,-1.9,1.03,-1.46,1.41,-0.95,1.37,-0.55,1.71,0.21,1.71,0.07,1.84,0.58,1.97,0.87,2.0,0.61,2.13,1.16,2.17,1.23,2.17,1.89,2.21,2.0,1.5,3.38,1.74,3.13,1.5,2.43,1.23,2.4,1.03,2.25,1.33,2.21,1.03,2.03,1.37,2.03,0.56,1.45,0.9,1.6,1.23,1.6,0.23,1.45,-0.85,0.72,-0.24,0.54,-0.04,0.65,-2.1,1.1,-1.9,0.7,-1.8,-0.5,-1.4,-1.2,-0.3,-1.6,0.3,-1.45,0.7,-1.3,1.1,-1.1,1.5,0.1,1.6,0.9,1.65,1.9];
const fitCMCC = [-3.31,3.99,-2.95,3.0,-2.6,2.14,-2.2,1.3,-1.8,0.63,-1.4,0.11,-1.0,-0.26,-0.6,-0.47,-0.27,-0.52,0.1,-0.45,0.5,-0.23,0.9,0.15,1.3,0.69,1.7,1.38,2.0,2.0,2.24,2.57];

// ---- MIROC6 ----
const colsM6 = [
[-2.4,-0.62,-0.88,-1.12,-1.38],[-2.25,-0.5,-0.75,-1.0,-1.25],[-2.1,-0.12,-0.38,-0.62,-0.88],[-1.95,0,-0.25,-0.5,-0.75],
[-1.8,0.38,0.12,-0.12,-0.38,-0.62],[-1.65,0.5,0.25,0,-0.25,-0.5],[-1.5,0.88,0.62,0.38,0.12,-0.12,-0.38],
[-1.35,1.0,0.75,0.5,0.25,0,-0.25,-0.5],[-1.2,1.12,0.88,0.62,0.38,0.12,-0.12,-0.38],[-1.05,1.25,1,0.75,0.5,0.25,0,-0.25,-0.5],
[-0.9,1.38,1.12,0.88,0.62,0.38,0.12,-0.12,-0.38],[-0.75,1.5,1.25,1,0.75,0.5,0.25,0,-0.25],
[-0.6,1.62,1.38,1.12,0.88,0.62,0.38,0.12,-0.12,-0.38],[-0.45,1.75,1.5,1.25,1,0.75,0.5,0.25,0,-0.25],
[-0.3,1.62,1.38,1.12,0.88,0.62,0.38,0.12,-0.12,-0.38,-0.62],[-0.15,1.75,1.5,1.25,1,0.75,0.5,0.25,0,-0.25,-0.5,-0.75],
[0,1.62,1.38,1.12,0.88,0.62,0.38,0.12,-0.12,-0.38,-0.62,-0.88],[0.15,1.5,1.25,1,0.75,0.5,0.25,0,-0.25,-0.5,-0.75,-1.0,-1.25],
[0.3,1.38,1.12,0.88,0.62,0.38,0.12,-0.12,-0.38,-0.62,-0.88,-1.12],[0.45,1.25,1,0.75,0.5,0.25,0,-0.25,-0.5,-0.75,-1.0,-1.25,-1.5],
[0.6,1.12,0.88,0.62,0.38,0.12,-0.12,-0.38,-0.62,-0.88,-1.12,-1.38],[0.75,1.0,0.75,0.5,0.25,0,-0.25,-0.5,-0.75,-1.0,-1.25,-1.5,-1.75],
[0.9,0.88,0.62,0.38,0.12,-0.12,-0.38,-0.62,-0.88,-1.12,-1.38,-1.62],[1.05,0.75,0.5,0.25,0,-0.25,-0.5,-0.75,-1.0,-1.25,-1.5,-1.75],
[1.2,0.38,0.12,-0.12,-0.38,-0.62,-0.88,-1.12,-1.38,-1.62,-1.88],[1.35,0.25,0,-0.25,-0.5,-0.75,-1.0,-1.25,-1.5],
[1.5,-0.12,-0.38,-0.62,-0.88,-1.12,-1.38,-1.62,-1.88],[1.65,-0.5,-0.75,-1.0,-1.25,-1.5,-1.75],[1.8,-0.62,-0.88,-1.12,-1.38]
];
const ptsM6 = [-3.14,-3.61,-3.44,-2.7,-3.38,-2.48,-3.07,-2.67,-3.22,-2.27,-2.89,-1.76,-2.95,-2.16,-2.83,-1.5,-2.64,-1.14,-2.6,-0.95,-2.46,-0.74,-2.48,-0.48,-2.54,0.28,-2.15,-1.49,-2.15,0.43,-2.17,0.21,-2.02,-0.04,-1.96,1.92,-1.51,1.92,-1.41,2.07,-0.75,2.14,-0.17,2.25,-0.36,2.03,0.26,1.81,0.16,1.92,0.51,1.74,0.81,1.81,0.88,1.23,1.49,0.72,1.47,0.43,1.74,-0.26,1.96,-1.1,1.93,-2.38,1.74,-2.23,1.31,-3.07,1.06,-2.63,1.25,-2.41,1.49,-2.08,0.16,-2.16,0.35,-2.05,0.69,-2.05,0.94,-2.08,-0.17,-1.28,-0.46,-0.95,-1.07,-0.59,-2.17,-1.5,-3.6,-3.3,-3.5,-3.0,-3.3,-2.8,-3.25,-2.5,-3.1,-2.2,-3.0,-2.0,-2.9,-1.9,-2.8,-1.6,-2.7,-1.3,-2.6,-1.4,-2.5,-1.0,-3.4,-3.2,-3.45,-2.9,-3.3,-3.45,-2.2,-1.0,-2.3,-0.3,-1.8,0.9,-1.6,1.1,-1.2,1.5,-0.9,1.7,0.4,1.6,0.9,1.2,1.2,0.8,1.6,0.2,1.9,-1.6,1.7,-1.9,1.4,-2.0,0.6,-1.7,0.2,-1.5];
const fitM6 = [-3.79,-3.99,-3.4,-2.97,-3.0,-2.05,-2.6,-1.27,-2.2,-0.64,-1.8,-0.13,-1.4,0.23,-1.0,0.46,-0.54,0.55,-0.1,0.47,0.3,0.25,0.7,-0.11,1.1,-0.61,1.5,-1.24,1.99,-2.2];

// ---- CESM2 ----
const colsCESM = [
[-2.4,2.62,2.38,2.12,1.88,1.62],[-2.25,2.5,2.25,2,1.75,1.5,1.25],[-2.1,2.38,2.12,1.88,1.62,1.38,1.12,0.88],
[-1.95,2.25,2,1.75,1.5,1.25,1,0.75,0.5],[-1.8,1.88,1.62,1.38,1.12,0.88,0.62,0.38,0.12],
[-1.65,1.75,1.5,1.25,1,0.75,0.5,0.25,0,-0.25],[-1.5,1.38,1.12,0.88,0.62,0.38,0.12,-0.12,-0.38,-0.62],
[-1.35,1.25,1,0.75,0.5,0.25,0,-0.25,-0.5,-0.75,-1.0],[-1.2,0.88,0.62,0.38,0.12,-0.12,-0.38,-0.62,-0.88,-1.12],
[-1.05,0.75,0.5,0.25,0,-0.25,-0.5,-0.75,-1.0,-1.25,-1.5],[-0.9,0.62,0.38,0.12,-0.12,-0.38,-0.62,-0.88,-1.12,-1.38,-1.62],
[-0.75,0.5,0.25,0,-0.25,-0.5,-0.75,-1.0,-1.25,-1.5,-1.75],[-0.6,0.38,0.12,-0.12,-0.38,-0.62,-0.88,-1.12,-1.38,-1.62],
[-0.45,0.5,0.25,0,-0.25,-0.5,-0.75,-1.0,-1.25,-1.5,-1.75],[-0.3,0.38,0.12,-0.12,-0.38,-0.62,-0.88,-1.12,-1.38,-1.62],
[-0.15,0.5,0.25,0,-0.25,-0.5,-0.75,-1.0,-1.25,-1.5,-1.75],[0,0.62,0.38,0.12,-0.12,-0.38,-0.62,-0.88,-1.12,-1.38,-1.62],
[0.15,0.5,0.25,0,-0.25,-0.5,-0.75,-1.0,-1.25,-1.5,-1.75],[0.3,0.62,0.38,0.12,-0.12,-0.38,-0.62,-0.88,-1.12,-1.38],
[0.45,0.75,0.5,0.25,0,-0.25,-0.5,-0.75,-1.0,-1.25,-1.5],[0.6,0.88,0.62,0.38,0.12,-0.12,-0.38,-0.62,-0.88,-1.12],
[0.75,1.0,0.75,0.5,0.25,0,-0.25,-0.5,-0.75,-1.0],[0.9,1.12,0.88,0.62,0.38,0.12,-0.12,-0.38,-0.62,-0.88],
[1.05,1.25,1,0.75,0.5,0.25,0,-0.25,-0.5],[1.2,1.38,1.12,0.88,0.62,0.38,0.12,-0.12],
[1.35,1.25,1.0,0.75,0.5,0.25,0],[1.5,1.38,1.12,0.88,0.62,0.38],[1.65,1.5,1.25,1.0,0.75,0.5],
[1.8,1.88,1.62,1.38,1.12],[1.95,2.25,2.0,1.75,1.5],[2.1,2.5,2.25,2.0,1.75]
];
const ptsCESM = [-2.58,3.02,-2.15,3.45,-1.56,2.98,-1.97,2.83,-1.78,2.83,-2.4,2.51,-1.66,2.51,-1.51,2.62,-1.44,2.4,-2.28,2.14,-2.03,2.21,-0.98,2.25,-1.35,1.85,-0.18,1.96,0.37,1.52,1.17,1.67,1.48,1.56,2.28,3.89,2.38,3.6,2.4,3.49,2.22,3.13,2.22,3.31,2.34,2.98,2.15,2.54,1.91,2.21,2.22,2.25,2.34,2.29,2.28,1.89,1.88,2.0,2.09,1.49,1.91,1.16,2.3,0.83,1.78,0.32,1.76,-0.41,1.23,-1.21,0.86,-1.43,0.62,-1.72,0.31,-2.45,0.34,-2.48,-0.09,-2.48,-0.25,-2.01,-0.95,-2.16,-0.82,-1.65,-1.44,-1.32,-1.69,-0.7,-1.72,-0.85,-1.91,-0.08,-2.38,1.05,-2.37,1.41,-2.15,0.61,-1.97,0.54,-1.5,1.7,-1.2,1.3,-0.9,1.0,-0.6,0.8,0.0,1.0,0.6,1.1,1.0,1.5,1.5,1.7,1.6,0.1,1.4,-0.4,1.1,-0.9,0.6,-1.4,-0.3,-1.95,-0.6,-1.9,-1.1,-1.75,-1.3,-1.3,-2.5,2.0,-2.2,2.9];
const fitCESM = [-2.67,3.41,-2.3,2.37,-1.9,1.42,-1.5,0.66,-1.1,0.08,-0.7,-0.33,-0.3,-0.55,-0.02,-0.59,0.3,-0.53,0.7,-0.3,1.1,0.13,1.5,0.73,1.9,1.51,2.3,2.48,2.7,3.63];

const panelCols = [colsIPSL,colsCNRM6,colsCan,colsCE2,colsACC,colsMPI,colsGH,colsMRI,colsUK,colsGG,colsES2L,colsCMCC,colsM6,colsCESM];
const panelPts = [ptsIPSL,ptsCNRM6,ptsCan,ptsCE2,ptsACC,ptsMPI,ptsGH,ptsMRI,ptsUK,ptsGG,ptsES2L,ptsCMCC,ptsM6,ptsCESM];
const panelFits = [fitIPSL,fitCNRM6,fitCan,fitCE2,fitACC,fitMPI,fitGH,fitMRI,fitUK,fitGG,fitES2L,fitCMCC,fitM6,fitCESM];

// marker size of the dense-core points (style, per panel)
const coreDotSize = [12.5,10.5,12.5,10.5,12.5,12,12,11.5,12.5,12,11,10.5,12,12.5];

function fromCols(cols){const out=[];cols.forEach(c=>{for(let i=1;i<c.length;i++)out.push([c[0],c[i]]);});return out;}
function fromFlat(a){const out=[];for(let i=0;i+1<a.length;i+=2)out.push([a[i],a[i+1]]);return out;}

const FONT = '"Liberation Sans", Arial, Helvetica, sans-serif';
const L0 = 81.5, T0 = 97.7, DX = 580, DY = 567.6, W = 456, H = 365.5;
const grids=[], xAxes=[], yAxes=[], series=[], graphics=[];
const minus = v => String(v).replace('-', '\u2212');

modelNames.forEach((name,i)=>{
  const r = Math.floor(i/5), c = i%5;
  const left = L0 + c*DX, top = T0 + r*DY;
  grids.push({left:left, top:top, width:W, height:H, containLabel:false});
  const axLine = {onZero:false, lineStyle:{color:'#000', width:1.8}};
  const axTick = {length:8, lineStyle:{color:'#000', width:1.8}};
  xAxes.push({gridIndex:i, type:'value', min:axisMin, max:axisMax, interval:axisStep,
    axisLine:axLine, axisTick:axTick, splitLine:{show:false},
    axisLabel:{margin:10, color:'#000', fontSize:35, fontFamily:FONT, formatter:minus}});
  yAxes.push({gridIndex:i, type:'value', min:axisMin, max:axisMax, interval:axisStep,
    axisLine:axLine, axisTick:axTick, splitLine:{show:false},
    axisLabel:{margin:14, color:'#000', fontSize:35, fontFamily:FONT, formatter:minus}});
  series.push({type:'scatter', xAxisIndex:i, yAxisIndex:i, symbol:'circle', symbolSize:coreDotSize[i],
    itemStyle:{color:'#000', opacity:1}, silent:true, z:2, data: fromCols(panelCols[i])});
  series.push({type:'scatter', xAxisIndex:i, yAxisIndex:i, symbol:'circle', symbolSize:9,
    itemStyle:{color:'#000', opacity:1}, silent:true, z:2, data: fromFlat(panelPts[i])});
  series.push({type:'line', xAxisIndex:i, yAxisIndex:i, data:fromFlat(panelFits[i]), smooth:true,
    showSymbol:false, symbol:'none', silent:true, z:5, lineStyle:{color:'#0000ff', width:5}});
  graphics.push({type:'text', x:left+W/2, y:top-54, z:10, style:{text:name, font:'46px '+FONT, fill:'#000', align:'center', verticalAlign:'middle'}});
  graphics.push({type:'text', x:left+18.5, y:top+21, z:10, style:{text:'\u03b1 = '+alphaLabels[i], font:'43px '+FONT, fill:'#0000ff', align:'left', verticalAlign:'middle'}});
  graphics.push({type:'text', x:left+18.5, y:top+H-37.5, z:10, style:{text:'years = '+yearCounts[i], font:'41px '+FONT, fill:'#000', align:'left', verticalAlign:'middle'}});
});

const chart = echarts.init(document.getElementById('c'), null, {renderer:'canvas'});
chart.setOption({animation:false, backgroundColor:'#fff', grid:grids, xAxis:xAxes, yAxis:yAxes, series:series, graphic:graphics});
</script></body></html>
